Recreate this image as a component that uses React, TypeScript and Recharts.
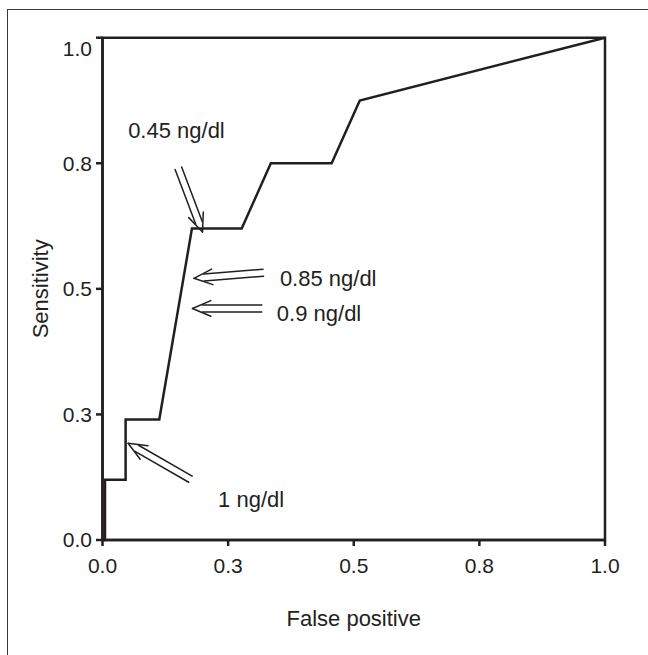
import {
  Line,
  LineChart,
  ReferenceArea,
  ReferenceDot,
  ReferenceLine,
  XAxis,
  YAxis,
} from "recharts";

const falsePositive = [0, 0.005, 0.005, 0.046, 0.046, 0.113, 0.178, 0.277, 0.335, 0.456, 0.512, 1];
const sensitivity = [0, 0, 0.12, 0.12, 0.24, 0.24, 0.62, 0.62, 0.75, 0.75, 0.875, 1];

const axisTicks = [0, 0.25, 0.5, 0.75, 1];
const tickLabels = ["0.0", "0.3", "0.5", "0.8", "1.0"];

// annotation text: label, left x, middle y (data units)
const noteLabels = ["0.45 ng/dl", "0.85 ng/dl", "0.9 ng/dl", "1 ng/dl"];
const noteX = [0.051, 0.353, 0.347, 0.23];
const noteY = [0.815, 0.522, 0.451, 0.081];

// arrows: tail -> tip (data units)
const arrowTailX = [0.151, 0.32, 0.317, 0.175];
const arrowTailY = [0.74, 0.532, 0.461, 0.121];
const arrowTipX = [0.199, 0.182, 0.179, 0.051];
const arrowTipY = [0.613, 0.521, 0.461, 0.1925];

const data = falsePositive.map((fp, i) => ({ fp, tpr: sensitivity[i] }));

const INK = "#231f20";
const FONT = '"Liberation Sans", Arial, Helvetica, sans-serif';

const DoubleArrow = (props: any) => {
  const { x1, y1, x2, y2 } = props;
  const len = Math.hypot(x2 - x1, y2 - y1);
  const ux = (x2 - x1) / len;
  const uy = (y2 - y1) / len;
  const nx = -uy;
  const ny = ux;
  const gap = 3.5;
  const inset = 10;
  const barb = 20;
  const ang = (23 * Math.PI) / 180;
  const ex = x2 - ux * inset;
  const ey = y2 - uy * inset;
  const rot = (a: number) => ({
    x: -(ux * Math.cos(a) - uy * Math.sin(a)),
    y: -(ux * Math.sin(a) + uy * Math.cos(a)),
  });
  const b1 = rot(ang);
  const b2 = rot(-ang);
  return (
    <g stroke={INK} strokeWidth={1.5} fill="none" strokeLinecap="round">
      <line x1={x1 + nx * gap} y1={y1 + ny * gap} x2={ex + nx * gap} y2={ey + ny * gap} />
      <line x1={x1 - nx * gap} y1={y1 - ny * gap} x2={ex - nx * gap} y2={ey - ny * gap} />
      <line x1={x2} y1={y2} x2={x2 + b1.x * barb} y2={y2 + b1.y * barb} />
      <line x1={x2} y1={y2} x2={x2 + b2.x * barb} y2={y2 + b2.y * barb} />
    </g>
  );
};

const YTick = ({ x, y, payload, index }: any) => (
  <text
    x={x}
    y={y + (payload.value === 1 ? 11 : 0)}
    dy="0.355em"
    textAnchor="end"
    fontSize={21}
    fontFamily={FONT}
    fill={INK}
  >
    {tickLabels[index]}
  </text>
);

const App = () => {
  return (
    <div
      style={{
        position: "absolute",
        left: 0,
        top: 0,
        width: 648,
        height: 655,
        overflow: "hidden",
        background: "#fff",
      }}
    >
      <div
        style={{
          position: "absolute",
          left: 7,
          top: 9,
          width: 700,
          height: 700,
          borderTop: "1px solid #3a3a3a",
          borderLeft: "1px solid #3a3a3a",
        }}
      />
      <div style={{ position: "absolute", left: 0, top: 0 }}>
        <LineChart
          width={648}
          height={655}
          data={data}
          margin={{ top: 37.7, right: 43, bottom: 55, left: 30 }}
        >
          <XAxis
            type="number"
            dataKey="fp"
            domain={[0, 1]}
            ticks={axisTicks}
            tickFormatter={(_v: number, i: number) => tickLabels[i]}
            height={60}
            tickSize={6}
            tickMargin={12}
            stroke={INK}
            strokeWidth={2.5}
            tick={{ fill: INK, fontSize: 21, fontFamily: FONT }}
            label={{
              content: ({ viewBox }: any) => (
                <text
                  x={viewBox.x + viewBox.width / 2}
                  y={viewBox.y + 86}
                  textAnchor="middle"
                  fontSize={22}
                  fontFamily={FONT}
                  fill={INK}
                >
                  False positive
                </text>
              ),
            }}
          />
          <YAxis
            type="number"
            domain={[0, 1]}
            ticks={axisTicks}
            width={72.5}
            tickSize={6.5}
            tickMargin={4}
            stroke={INK}
            strokeWidth={2.5}
            tick={(p: any) => <YTick {...p} />}
            label={{
              content: ({ viewBox }: any) => {
                const cx = viewBox.x + 11;
                const cy = viewBox.y + viewBox.height / 2;
                return (
                  <text
                    x={cx}
                    y={cy}
                    transform={`rotate(-90 ${cx} ${cy})`}
                    textAnchor="middle"
                    dominantBaseline="central"
                    fontSize={22}
                    fontFamily={FONT}
                    fill={INK}
                  >
                    Sensitivity
                  </text>
                );
              },
            }}
          />
          <ReferenceArea
            x1={0}
            x2={1}
            y1={0}
            y2={1}
            fill="none"
            stroke={INK}
            strokeWidth={2.5}
          />
          <Line
            type="linear"
            dataKey="tpr"
            stroke={INK}
            strokeWidth={2.5}
            strokeLinejoin="miter"
            dot={false}
            activeDot={false}
            isAnimationActive={false}
          />
          {arrowTailX.map((tx, i) => (
            <ReferenceLine
              key={`arrow-${i}`}
              segment={[
                { x: tx, y: arrowTailY[i] },
                { x: arrowTipX[i], y: arrowTipY[i] },
              ]}
              shape={(p: any) => <DoubleArrow {...p} />}
            />
          ))}
          {noteLabels.map((label, i) => (
            <ReferenceDot
              key={`note-${i}`}
              x={noteX[i]}
              y={noteY[i]}
              r={0}
              shape={(p: any) => (
                <text
                  x={p.cx}
                  y={p.cy}
                  dy="0.355em"
                  fontSize={22}
                  fontFamily={FONT}
                  fill={INK}
                >
                  {label}
                </text>
              )}
            />
          ))}
        </LineChart>
      </div>
    </div>
  );
};

export default App;
